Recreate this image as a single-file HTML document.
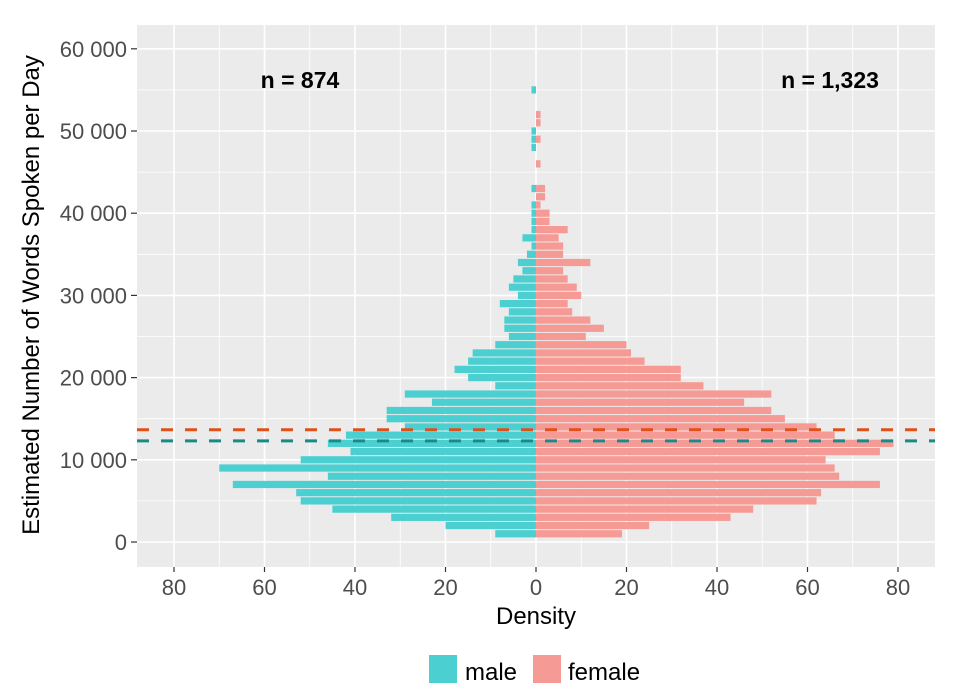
<!DOCTYPE html>
<html><head><meta charset="utf-8"><style>
body{margin:0;background:#fff;font-family:"Liberation Sans",sans-serif;}
svg text{font-family:"Liberation Sans",sans-serif;}
</style></head><body>
<svg id="chart" width="953" height="695" viewBox="0 0 953 695" xmlns="http://www.w3.org/2000/svg">
<rect x="0" y="0" width="953" height="695" fill="#fff"/>
<rect x="137" y="25" width="798" height="542" fill="#ebebeb"/>
<g id="grid"></g>
<g id="bars"></g>
<g id="lines"></g>
<g id="axes"></g>
<text x="300" y="88" font-size="23" font-weight="bold" text-anchor="middle">n = 874</text>
<text x="830" y="88" font-size="23" font-weight="bold" text-anchor="middle">n = 1,323</text>
<text x="536" y="624" font-size="24" text-anchor="middle" fill="#000">Density</text>
<text transform="translate(39,295) rotate(-90)" font-size="24" text-anchor="middle" fill="#000">Estimated Number of Words Spoken per Day</text>
<g>
<rect x="429" y="655" width="28" height="28" fill="#4ccfd0"/>
<text x="465" y="680" font-size="24">male</text>
<rect x="533" y="655" width="28" height="28" fill="#f59a94"/>
<text x="568" y="680" font-size="24">female</text>
</g>
</svg>
<script>
const binCenters=[1,2,3,4,5,6,7,8,9,10,11,12,13,14,15,16,17,18,19,20,21,22,23,24,25,26,27,28,29,30,31,32,33,34,35,36,37,38,39,40,41,42,43,44,45,46,47,48,49,50,51,52,53,54,55];
const maleDensity=[9,20,32,45,52,53,67,46,70,52,41,46,42,29,33,33,23,29,9,15,18,15,14,9,6,7,7,6,8,4,6,5,3,4,2,1,3,1,1,1,1,0,1,0,0,0,0,1,1,1,0,0,0,0,1];
const femaleDensity=[19,25,43,48,62,63,76,67,66,64,76,79,66,62,55,52,46,52,37,32,32,24,21,20,11,15,12,8,7,10,9,7,6,12,6,6,5,7,3,3,1,2,2,0,0,1,0,0,1,0,1,1,0,0,0];
const refLines=[13650,12300];
const refColors=["#e0501b","#178a8a"];
const xTicks=[-80,-60,-40,-20,0,20,40,60,80];
const yTicks=[0,10000,20000,30000,40000,50000,60000];
const NS="http://www.w3.org/2000/svg";
const X0=137,X1=935,Y0=25,Y1=567;
function xs(v){return 536+4.525*v;}
function ys(w){return 542-0.00822*w;}
function mk(tag,attrs,parent){const e=document.createElementNS(NS,tag);for(const k in attrs)e.setAttribute(k,attrs[k]);parent.appendChild(e);return e;}
const grid=document.getElementById('grid');
for(let v=-90;v<=90;v+=10){const x=xs(v);if(x<X0||x>X1)continue;const major=v%20===0;
 const l=mk('line',{x1:x,x2:x,y1:Y0,y2:Y1,stroke:'#fff','stroke-width':major?1.6:0.8},grid);
 
 }
for(let w=-5000;w<=65000;w+=5000){const y=ys(w);if(y<Y0||y>Y1)continue;const major=w%10000===0;
 const l=mk('line',{x1:X0,x2:X1,y1:y,y2:y,stroke:'#fff','stroke-width':major?1.6:0.8},grid);
 
 }
const bars=document.getElementById('bars');
const bh=8.22;
binCenters.forEach((c,i)=>{const yc=ys(c*1000);
 if(maleDensity[i]>0){const r=mk('rect',{x:xs(-maleDensity[i]),y:yc-bh/2+0.5,width:xs(0)-xs(-maleDensity[i]),height:bh-1,fill:'#4ccfd0'},bars);
  
  }
 if(femaleDensity[i]>0){const r=mk('rect',{x:xs(0),y:yc-bh/2+0.5,width:xs(femaleDensity[i])-xs(0),height:bh-1,fill:'#f59a94'},bars);
  
  }
});
const lines=document.getElementById('lines');
refLines.forEach((w,i)=>{const l=mk('line',{x1:X0,x2:X1,y1:ys(w),y2:ys(w),stroke:refColors[i],'stroke-width':3,'stroke-dasharray':'12 12'},lines);
 
 });
const axes=document.getElementById('axes');
xTicks.forEach(v=>{const x=xs(v);
 const t=mk('line',{x1:x,x2:x,y1:Y1,y2:Y1+5,stroke:'#333','stroke-width':1.2},axes);
 
 
 const tx=mk('text',{x:x,y:595,'font-size':22,'text-anchor':'middle',fill:'#4d4d4d'},axes);
 tx.textContent=String(Math.abs(v));
 
 });
yTicks.forEach(w=>{const y=ys(w);
 const t=mk('line',{x1:X0-6,x2:X0,y1:y,y2:y,stroke:'#333','stroke-width':1.2},axes);
 
 
 const tx=mk('text',{x:X0-10,y:y+8,'font-size':22,'text-anchor':'end',fill:'#4d4d4d'},axes);
 tx.textContent=w===0?'0':(w/1000)+' 000';
 
 });
</script>
</body></html>
